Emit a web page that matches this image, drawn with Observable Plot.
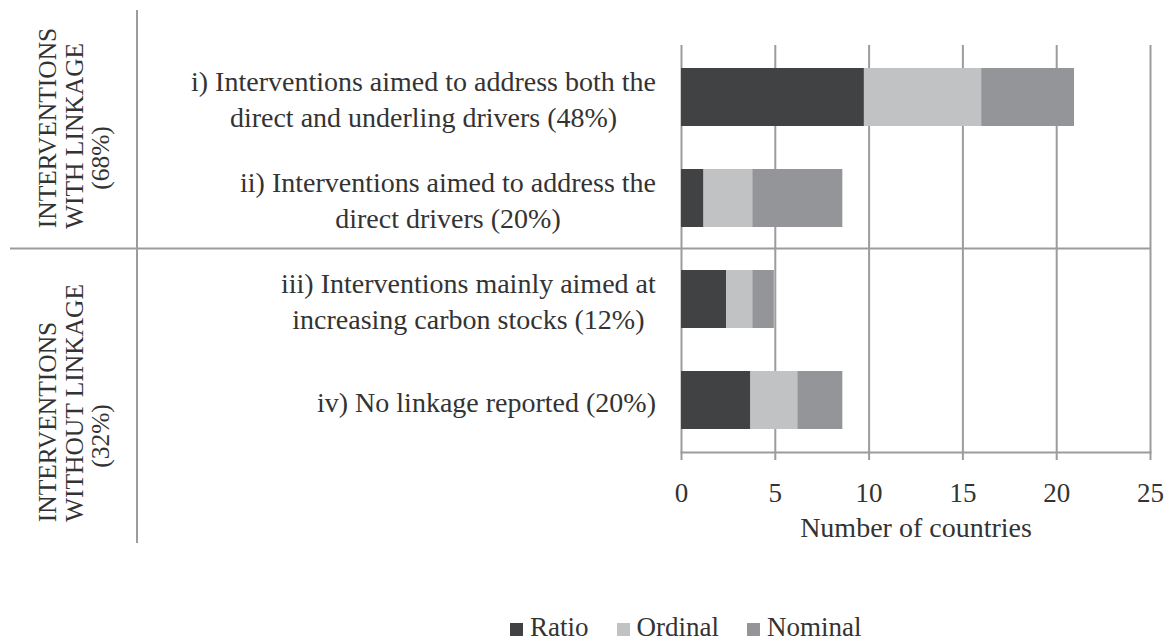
<!DOCTYPE html>
<html>
<head>
<meta charset="utf-8">
<script src="https://cdn.jsdelivr.net/npm/d3@7"></script>
<script src="https://cdn.jsdelivr.net/npm/@observablehq/plot@0.6"></script>
<style>
  html, body { margin: 0; padding: 0; background: #fff; }
  #chart svg { display: block; }
  #legend {
    height: 42px; box-sizing: border-box; padding-top: 12px;
    padding-left: 510px; display: flex; align-items: baseline;
    font-family: "Liberation Serif", LiberationSerif, Tinos, "Nimbus Roman", "Nimbus Roman No9 L", FreeSerif, "Noto Serif", "DejaVu Serif", "Times New Roman", Times, serif;
    font-size: 27px; line-height: 30px; color: #333;
  }
  #legend .item { display: inline-flex; align-items: baseline; margin-right: 28px; }
  #legend .sw { display: inline-block; width: 13px; height: 13px; margin-right: 7px; }
</style>
</head>
<body>
<div id="chart"></div>
<div id="legend"></div>
<script>
// ---- data ----
const categories = ["i", "ii", "iii", "iv"];
const categoryLabels = [
  "i) Interventions aimed to address both the\ndirect and underling drivers (48%)",
  "ii) Interventions aimed to address the\ndirect drivers (20%)",
  "iii) Interventions mainly aimed at\nincreasing carbon stocks (12%)",
  "iv) No linkage reported (20%)"
];
const seriesNames = ["Ratio", "Ordinal", "Nominal"];
const ratio   = [9.75, 1.2, 2.4, 3.7];
const ordinal = [6.25, 2.6, 1.4, 2.5];
const nominal = [4.95, 4.8, 1.15, 2.4];
const xTicks = [0, 5, 10, 15, 20, 25];
const xLabel = "Number of countries";
const groupLines = [
  ["INTERVENTIONS", "WITH LINKAGE", "(68%)"],
  ["INTERVENTIONS", "WITHOUT LINKAGE", "(32%)"]
];

// ---- styles ----
const colors = ["#414244", "#c1c2c4", "#949598"];
const gray = "#9c9c9c";
const font = '"Liberation Serif", LiberationSerif, Tinos, "Nimbus Roman", "Nimbus Roman No9 L", FreeSerif, "Noto Serif", "DejaVu Serif", "Times New Roman", Times, serif';

const series = [ratio, ordinal, nominal];
const table = categories.flatMap((c, i) =>
  seriesNames.map((s, j) => ({cat: c, series: s, value: series[j][i]})));

const chart = Plot.plot({
  width: 1170, height: 600,
  marginTop: 45, marginBottom: 148, marginLeft: 681, marginRight: 20,
  style: {fontFamily: font, color: "#333", background: "#fff", overflow: "visible"},
  x: {domain: [0, 25], ticks: xTicks},
  y: {type: "band", domain: categories, paddingInner: 0.425, paddingOuter: 0.21},
  color: {domain: seriesNames, range: colors},
  marks: [
    Plot.gridX(xTicks, {stroke: gray, strokeOpacity: 1, strokeWidth: 2}),
    Plot.barX(table, {x: "value", y: "cat", fill: "series"}),
    Plot.frame({anchor: "bottom", stroke: gray, strokeWidth: 2}),
    Plot.axisX(xTicks, {tickSize: 8, tickPadding: 22, stroke: gray, strokeWidth: 2,
      fontSize: 27, fill: "#333", label: null, fontFamily: font}),
    Plot.axisY({tickSize: 0, tickPadding: 25, fontSize: 28, lineHeight: 1.3,
      textAnchor: "middle", fill: "#333", label: null, fontFamily: font,
      tickFormat: c => categoryLabels[categories.indexOf(c)]}),
    Plot.text([xLabel], {text: d => d, frameAnchor: "bottom", lineAnchor: "middle", dy: 76,
      fontSize: 28, fill: "#333", fontFamily: font})
  ]
});
chart.setAttribute("font-family", font);
document.getElementById("chart").appendChild(chart);

// right-align the centred multi-line category labels
const labelRight = 656;
const sr = chart.getBoundingClientRect();
chart.querySelectorAll('[aria-label="y-axis tick label"] text').forEach(t => {
  const r = t.getBoundingClientRect();
  const shift = labelRight - (r.right - sr.left);
  const g = document.createElementNS("http://www.w3.org/2000/svg", "g");
  g.setAttribute("transform", `translate(${shift},0)`);
  t.parentNode.insertBefore(g, t);
  g.appendChild(t);
});

// left panel: dividers and rotated group labels
const y = chart.scale("y");
const sepY = y.apply("iii") - (y.step - y.bandwidth) / 2;
const svg = d3.select(chart);
const deco = svg.append("g").attr("stroke", gray).attr("stroke-width", 2);
deco.append("line").attr("x1", 10).attr("x2", 1151).attr("y1", sepY).attr("y2", sepY);
deco.append("line").attr("x1", 137).attr("x2", 137).attr("y1", 10).attr("y2", 543);

const lineX = [47, 74, 100];
const groupCenters = [[128, 136, 158], [422, 403, 436]];
const gl = svg.append("g").attr("font-family", font).attr("font-size", 25.5).attr("fill", "#333");
groupLines.forEach((lines, gi) => {
  lines.forEach((txt, li) => {
    gl.append("text")
      .attr("transform", `translate(${lineX[li]},${groupCenters[gi][li]}) rotate(-90)`)
      .attr("text-anchor", "middle").attr("dy", "0.35em").text(txt);
  });
});

// legend
const legend = d3.select("#legend");
seriesNames.forEach((s, i) => {
  const it = legend.append("span").attr("class", "item");
  it.append("span").attr("class", "sw").style("background", colors[i]);
  it.append("span").text(s);
});
</script>
</body>
</html>
